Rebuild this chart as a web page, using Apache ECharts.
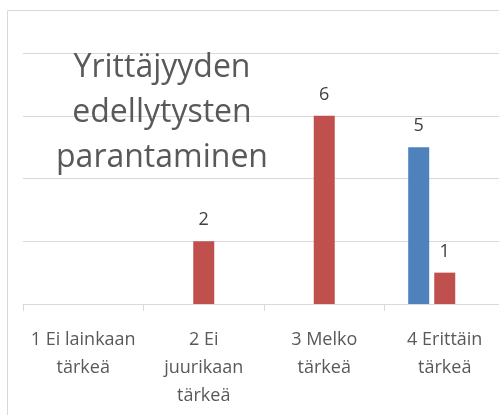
<!DOCTYPE html>
<html>
<head>
<meta charset="utf-8">
<script src="https://cdn.jsdelivr.net/npm/echarts@6/dist/echarts.min.js"></script>
<style>
  html, body { margin: 0; padding: 0; background: #fff; }
  #main { width: 499px; height: 415px; }
</style>
</head>
<body>
<div id="main"></div>
<script>
// categories (line breaks as in the picture)
const categories = [
  '1 Ei lainkaan\ntärkeä',
  '2 Ei\njuurikaan\ntärkeä',
  '3 Melko\ntärkeä',
  '4 Erittäin\ntärkeä'
];
const blueValues = [null, null, null, 5];
const redValues = [null, 2, 6, 1];
const emptyValues = [null, null, null, null];
const titleLines = ['Yrittäjyyden', 'edellytysten', 'parantaminen'];

const FONT = 'Open Sans';

function barSeries(name, data, color) {
  return {
    name: name,
    type: 'bar',
    data: data,
    barWidth: 21,
    barGap: '24%',
    itemStyle: { color: color },
    label: {
      show: true,
      position: 'top',
      distance: 12,
      color: '#404040',
      fontFamily: FONT,
      fontSize: 18
    }
  };
}

const myChart = echarts.init(document.getElementById('main'));
myChart.setOption({
  backgroundColor: '#fff',
  animation: false,
  grid: { left: 23, top: 53, width: 482, height: 251, outerBoundsMode: 'none' },
  xAxis: {
    type: 'category',
    data: categories,
    axisLine: { lineStyle: { color: '#d9d9d9', width: 1 } },
    axisTick: { show: true, length: 7, lineStyle: { color: '#d9d9d9' } },
    axisLabel: {
      interval: 0,
      margin: 22,
      color: '#595959',
      fontFamily: FONT,
      fontSize: 18,
      lineHeight: 28
    }
  },
  yAxis: {
    type: 'value',
    min: 0,
    max: 8,
    interval: 2,
    axisLine: { show: false },
    axisTick: { show: false },
    axisLabel: { show: false },
    splitLine: { lineStyle: { color: '#d9d9d9', width: 1 } }
  },
  series: [
    barSeries('Sarja1', blueValues, '#4f81bd'),
    barSeries('Sarja2', redValues, '#c0504d'),
    barSeries('Sarja3', emptyValues, '#9bbb59')
  ],
  graphic: [
    {
      type: 'rect',
      shape: { x: 7.5, y: 10.5, width: 700, height: 700 },
      style: { fill: 'none', stroke: '#d9d9d9', lineWidth: 1 },
      silent: true
    },
    {
      type: 'text',
      x: 162,
      y: 45,
      z: 10,
      style: {
        text: titleLines.join('\n'),
        align: 'center',
        verticalAlign: 'top',
        fill: '#595959',
        font: '32px "Open Sans"',
        lineHeight: 45
      }
    }
  ]
});
</script>
</body>
</html>
